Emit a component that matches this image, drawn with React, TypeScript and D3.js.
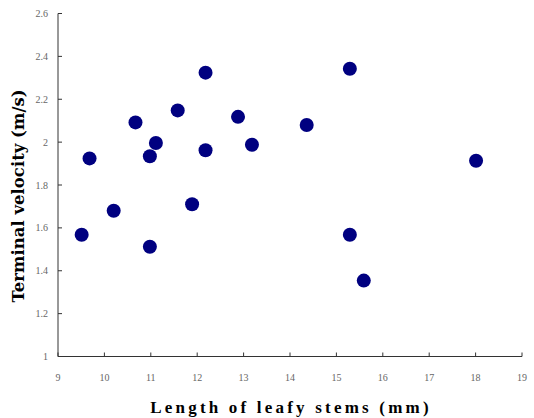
import React from "react";
import * as d3 from "d3";

const xValues = [9.51, 9.68, 10.2, 10.67, 10.98, 10.98, 11.11, 11.58, 11.89, 12.18, 12.18, 12.88, 13.18, 14.36, 15.29, 15.29, 15.59, 18.01];
const yValues = [1.568, 1.924, 1.68, 2.092, 1.512, 1.934, 1.996, 2.148, 1.71, 2.324, 1.962, 2.118, 1.988, 2.08, 2.342, 1.568, 1.354, 1.913];
const xTicks = [9, 10, 11, 12, 13, 14, 15, 16, 17, 18, 19];
const yTicks = [1, 1.2, 1.4, 1.6, 1.8, 2, 2.2, 2.4, 2.6];
const xTitle = "Length of leafy stems (mm)";
const yTitle = "Terminal velocity (m/s)";

export default function App() {
  const W = 534, H = 418;
  const x = d3.scaleLinear().domain([9, 19]).range([58, 522]);
  const y = d3.scaleLinear().domain([1, 2.6]).range([356.5, 13.5]);
  const fmt = (v: number) => String(+v.toFixed(1));
  return (
    <svg width={W} height={H} style={{ position: "absolute", left: 0, top: 0, background: "#fff" }}>
      <line x1={x(9)} x2={x(19)} y1={y(1)} y2={y(1)} stroke="#333" strokeWidth={1} />
      <line x1={x(9)} x2={x(9)} y1={y(1)} y2={y(2.6)} stroke="#333" strokeWidth={1} />
      {xTicks.map((t) => (
        <g key={"x" + t}>
          <line x1={x(t)} x2={x(t)} y1={y(1)} y2={y(1) - 4} stroke="#333" />
          <text x={x(t)} y={381} textAnchor="middle" fontFamily="'Liberation Serif', serif" fontSize={10} fill="#666">{fmt(t)}</text>
        </g>
      ))}
      {yTicks.map((t) => (
        <g key={"y" + t}>
          <line x1={x(9)} x2={x(9) + 4} y1={y(t)} y2={y(t)} stroke="#333" />
          <text x={48} y={y(t) + 3.5} textAnchor="end" fontFamily="'Liberation Serif', serif" fontSize={10} fill="#666">{fmt(t)}</text>
        </g>
      ))}
      {xValues.map((v, i) => (
        <circle key={i} cx={x(v)} cy={y(yValues[i])} r={7} fill="#000080" />
      ))}
      <text x={291} y={413} textAnchor="middle" fontFamily="'Liberation Serif', serif" fontWeight="bold" fontSize={17} letterSpacing={3.2} fill="#000">{xTitle}</text>
      <text transform="translate(24,196) rotate(-90)" textAnchor="middle" fontFamily="'DejaVu Serif', serif" fontWeight="bold" fontSize={16.5} fill="#000">{yTitle}</text>
    </svg>
  );
}
